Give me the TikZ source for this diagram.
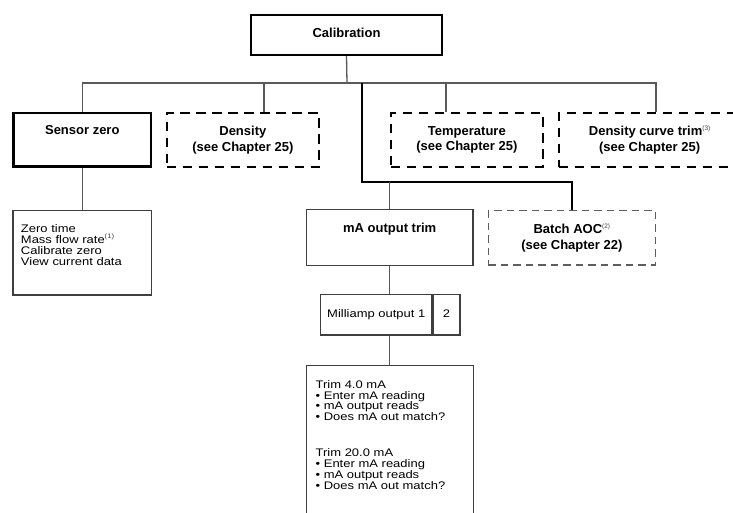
\documentclass[tikz,border=0pt]{standalone}
\usepackage{fontspec}
\setmainfont{Liberation Sans}
\newfontfamily\bodyfont{Liberation Sans}[FakeStretch=1.18]
\usetikzlibrary{positioning}
\definecolor{wire}{HTML}{595959}
\definecolor{frame}{HTML}{3F3F3F}
\definecolor{softdash}{HTML}{5E5E5E}
\newcommand{\noteref}[1]{\raisebox{.42em}{\fontsize{6.5}{6.5}\selectfont\mdseries\color{frame}(#1)}}
\begin{document}
\begin{tikzpicture}[x=1pt,y=-1pt,
  head/.style={font=\bfseries\fontsize{13}{15.5}\selectfont,align=center,inner sep=0pt},
  body/.style={font=\bodyfont\fontsize{11}{11.1}\selectfont},
  mainbox/.style={head,draw,line width=2.2pt},
  refbox/.style={head,draw,line width=1.8pt,dash pattern=on 9.5pt off 6.5pt},
  optbox/.style={head,draw=softdash,line width=1.4pt,dash pattern=on 7.5pt off 5pt},
  plainbox/.style={draw=frame,line width=1.3pt},
  conn/.style={draw=wire,line width=1.3pt},
  heavy/.style={draw=black,line width=2pt}]
  \clip (0,0) rectangle (733,513);
  \node[mainbox,minimum width=190.8pt,minimum height=39.8pt,text depth=4pt] (calib) at (346.5,35) {Calibration};
  \node[mainbox,minimum width=137.8pt,minimum height=53.8pt,text height=9.3pt,text depth=19pt] (szero) at (82.3,139.7) {Sensor zero};
  \node[refbox,minimum width=152.5pt,minimum height=54.2pt] (dens) at (242.85,140) {Density\\(see Chapter 25)};
  \node[refbox,minimum width=151.9pt,minimum height=53.6pt] (temp) at (466.85,140) {Temperature\\(see Chapter 25)};
  \node[refbox,minimum width=182pt,minimum height=53.6pt] (dcurve) at (649.6,140) {Density curve trim\noteref{3}\\(see Chapter 25)};
  \node[plainbox,body,align=left,text width=122.7pt,inner xsep=8pt,inner ysep=0pt,minimum height=84.4pt,text height=7.9pt,text depth=49pt] (szlist) at (82.3,252.85) {Zero time\\Mass flow rate\noteref{1}\\Calibrate zero\\View current data};
  \node[plainbox,head,minimum width=166.7pt,minimum height=55.7pt,text height=9.3pt,text depth=19pt] (mtrim) at (389.7,237.5) {mA output trim};
  \node[optbox,minimum width=166.9pt,minimum height=54.3pt] (batch) at (571.85,237.85) {Batch AOC\noteref{2}\\(see Chapter 22)};
  \node[plainbox,body,inner sep=0pt,minimum width=111.35pt,minimum height=40.7pt,text height=8pt,text depth=2.5pt] (mout) at (376.3,314.7) {Milliamp output 1};
  \node[plainbox,body,inner sep=0pt,minimum width=26.65pt,minimum height=40.7pt,text height=8pt,text depth=2.5pt,right=0pt of mout] (mtwo) {2};
  \node[plainbox,body,font=\bodyfont\fontsize{11}{10.9}\selectfont,anchor=north west,align=left,text width=148.5pt,inner xsep=9.5pt,inner ysep=15pt,text height=7.9pt,text depth=200pt] (trimlist) at (305.5,364.6) {Trim 4.0 mA\\• Enter mA reading\\• mA output reads\\• Does mA out match?\\[25pt]Trim 20.0 mA\\• Enter mA reading\\• mA output reads\\• Does mA out match?};
  \coordinate (bus) at (347,83);
  \coordinate (split) at (362,182);
  \coordinate (dsdrop) at ([xshift=21pt]dens.north);
  \coordinate (tpdrop) at ([xshift=-20.8pt]temp.north);
  \coordinate (dcdrop) at ([xshift=6.4pt]dcurve.north);
  \draw[conn] (calib.south) -- (bus);
  \draw[conn] (szero.north) |- (dcdrop |- bus) -- (dcdrop);
  \draw[conn] (dsdrop) -- (dsdrop |- bus);
  \draw[conn] (tpdrop) -- (tpdrop |- bus);
  \draw[heavy] (split |- bus) -- (split) -| (batch.north);
  \draw[conn] (mtrim.north) -- (mtrim.north |- split);
  \draw[conn] (szero.south) -- (szlist.north);
  \draw[conn] (mtrim.south) -- (mtrim.south |- mout.north);
  \draw[conn] (mtrim.south |- mout.south) -- (mtrim.south |- trimlist.north);
\end{tikzpicture}
\end{document}
